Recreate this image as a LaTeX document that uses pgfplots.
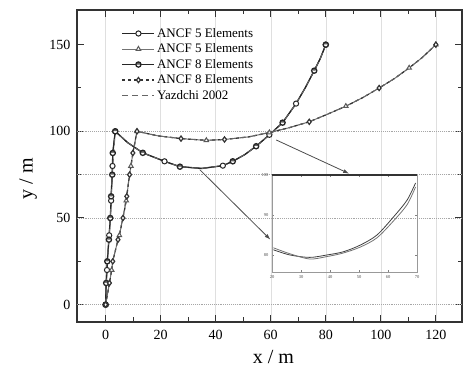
\documentclass[border=0pt]{standalone}
\usepackage{fontspec}
\setmainfont{Liberation Serif}
\usepackage{pgfplots}
\pgfplotsset{compat=1.18}
\usetikzlibrary{plotmarks,arrows.meta}
\begin{document}
\begin{tikzpicture}
\begin{axis}[name=main, at={(0,0)}, anchor=south west,
  scale only axis, width=385pt, height=312pt,
  xmin=-10.4, xmax=129.5, ymin=-10, ymax=170,
  xtick={0,20,...,120}, ytick={0,50,100,150},
  minor x tick num=1, minor y tick num=1,
  tick align=inside, major tick length=7pt, minor tick length=4.5pt,
  every tick/.style={black!80, line width=1pt},
  axis line style={black!80, line width=1.2pt},
  xmajorgrids, major x grid style={gray!25, thin},
  /pgf/number format/assume math mode=true,
  tick label style={font=\fontsize{14}{14}\selectfont},
  xticklabel style={yshift=-5pt},
  yticklabel style={xshift=-3pt},
  xlabel={x / m}, ylabel={y / m},
  label style={font=\fontsize{20}{20}\selectfont},
  xlabel style={at={(axis description cs:0.51,-0.111)}, anchor=center},
  ylabel style={at={(axis description cs:-0.127,0.46)}, anchor=center},
  legend style={draw=none, fill=none, at={(axis description cs:0.108,0.955)}, anchor=north west,
    font=\fontsize{13}{13.5}\selectfont, row sep=1pt, cells={anchor=west}},
  legend image code/.code={\draw[#1,mark indices={2}] plot coordinates {(0pt,0pt)(16pt,0pt)(32pt,0pt)};},
  mark size=2.6pt,
]
% horizontal dotted grid lines
\draw[densely dotted, gray!70, line width=0.9pt] (axis cs:-10.4,0) -- (axis cs:129.5,0);
\draw[densely dotted, gray!70, line width=0.9pt] (axis cs:-10.4,50) -- (axis cs:129.5,50);
\draw[densely dotted, gray!70, line width=0.9pt] (axis cs:-10.4,75) -- (axis cs:129.5,75);
\draw[densely dotted, gray!70, line width=0.9pt] (axis cs:-10.4,100) -- (axis cs:129.5,100);

% ANCF 5 Elements (circles) on cable 1
\addplot[black!85, line width=1pt, mark=*, mark options={fill=white, solid},
  mark indices={1,3,6,8,11,13,16,19,23,25,29}] coordinates {
(0,0) (0.2,12.5) (0.5,20) (0.6,25) (1.2,37.5) (1.3,40) (1.7,50) (2.0,60) (2.0,62.5)
(2.4,75) (2.5,80) (2.6,87.5) (3.5,100) (8,93.5) (13.5,87.6) (21.4,82.7) (27,79.6)
(35,78.6) (42.6,80.2) (46.2,82.7) (50.5,86.5) (54.7,91.4) (59.5,98) (64.3,105)
(69.2,116) (72.5,125) (75.8,135) (78,142) (80,150)};
\addlegendentry{ANCF 5 Elements}

% ANCF 5 Elements (triangles) on cable 2
\addplot[black!55, line width=1pt, mark=triangle*, mark options={fill=white, solid, draw=black!65},
  mark indices={1,3,6,8,11,13,16,19,23,27,29}] coordinates {
(0,0) (1.4,12.5) (2.2,20) (2.6,25) (4.5,37.5) (5.0,40) (6.3,50) (7.5,60) (7.7,62.5)
(8.7,75) (9.2,80) (9.9,87.5) (11.4,100) (19,97.4) (27.4,95.8) (36.6,94.8) (43.2,95.3)
(52,96.8) (59.5,99.3) (66.5,102) (74,105.5) (80.5,109.8) (87.3,114.5) (93.5,119.5)
(99.4,125) (105,130.5) (110.3,136.6) (115,142.5) (120,150)};
\addlegendentry{ANCF 5 Elements}

% ANCF 8 Elements (half filled circles) on cable 1
\addplot[black!85, line width=1.3pt, mark=halfcircle*, mark options={fill=black!60, solid, draw=black!85},
  mark indices={1,2,4,5,7,9,10,12,13,15,17,20,22,24,27,29}] coordinates {
(0,0) (0.2,12.5) (0.5,20) (0.6,25) (1.2,37.5) (1.3,40) (1.7,50) (2.0,60) (2.0,62.5)
(2.4,75) (2.5,80) (2.6,87.5) (3.5,100) (8,93.5) (13.5,87.6) (21.4,82.7) (27,79.6)
(35,78.6) (42.6,80.2) (46.2,82.7) (50.5,86.5) (54.7,91.4) (59.5,98) (64.3,105)
(69.2,116) (72.5,125) (75.8,135) (78,142) (80,150)};
\addlegendentry{ANCF 8 Elements}

% ANCF 8 Elements (diamonds, dashed) on cable 2
\addplot[black!80, line width=1.2pt, dashed, mark=diamond*, mark options={fill=white, solid, draw=black!80},
  mark indices={1,2,4,5,7,9,10,12,13,15,17,21,25,29}] coordinates {
(0,0) (1.4,12.5) (2.2,20) (2.6,25) (4.5,37.5) (5.0,40) (6.3,50) (7.5,60) (7.7,62.5)
(8.7,75) (9.2,80) (9.9,87.5) (11.4,100) (19,97.4) (27.4,95.8) (36.6,94.8) (43.2,95.3)
(52,96.8) (59.5,99.3) (66.5,102) (74,105.5) (80.5,109.8) (87.3,114.5) (93.5,119.5)
(99.4,125) (105,130.5) (110.3,136.6) (115,142.5) (120,150)};
\addlegendentry{ANCF 8 Elements}

% Yazdchi 2002 (dashed)
\addplot[black!60, line width=0.9pt, dashed, dash pattern=on 6pt off 4pt] coordinates {
(0,0) (0.6,25) (1.7,50) (2.4,75) (3.5,100) (8,93.5) (13.5,87.6) (21.4,82.7) (27,79.6)
(35,78.6) (42.6,80.2) (46.2,82.7) (50.5,86.5) (54.7,91.4) (59.5,98) (64.3,105)
(69.2,116) (72.5,125) (75.8,135) (78,142) (80,150)};
\addlegendentry{Yazdchi 2002}
\addplot[black!60, line width=0.9pt, dashed, dash pattern=on 6pt off 4pt, forget plot] coordinates {
(0,0) (2.6,25) (6.3,50) (8.7,75) (11.4,100) (19,97.4) (27.4,95.8) (36.6,94.8) (43.2,95.3)
(52,96.8) (59.5,99.3) (66.5,102) (74,105.5) (80.5,109.8) (87.3,114.5) (93.5,119.5)
(99.4,125) (105,130.5) (110.3,136.6) (115,142.5) (120,150)};

% arrows to the inset
\draw[-{Latex[length=6pt,width=4pt]}, black!70, line width=0.8pt] (axis cs:62,95) -- (axis cs:88.5,75.6);
\draw[-{Latex[length=6pt,width=4pt]}, black!70, line width=0.8pt] (axis cs:34.2,77.9) -- (axis cs:59.9,37.5);
\end{axis}

% inset
\begin{axis}[at={(195pt,50pt)}, anchor=south west,
  scale only axis, width=145pt, height=97pt,
  xmin=20, xmax=70, ymin=75.75, ymax=100,
  xtick={20,30,...,70}, ytick={80,90,100},
  tick align=inside, major tick length=2pt,
  every tick/.style={gray, thin},
  axis line style={gray!80, thin},
  tick label style={font=\fontsize{4.5}{5}\selectfont, text=black!70},
  /pgf/number format/assume math mode=true,
]
\draw[black!80, line width=1.5pt] (rel axis cs:0,1) -- (rel axis cs:1,1);
\addplot[black!75, line width=0.8pt, smooth] coordinates {
(20.5,81.3) (26.2,80) (33,79.4) (38.9,80) (44.6,80.8) (50.5,82.5) (56.2,85) (62,89.6) (66.6,93.75) (69.5,98)};
\addplot[black!55, line width=0.8pt, smooth] coordinates {
(20.5,81.8) (26.2,80.3) (33,79.0) (38.9,79.6) (44.6,80.5) (50.5,82.0) (56.2,84.3) (62,88.6) (66.6,92.6) (69.5,97)};
\end{axis}

\pgfresetboundingbox
\path (-77pt,-57pt) rectangle (386pt,322pt);
\end{tikzpicture}
\end{document}
